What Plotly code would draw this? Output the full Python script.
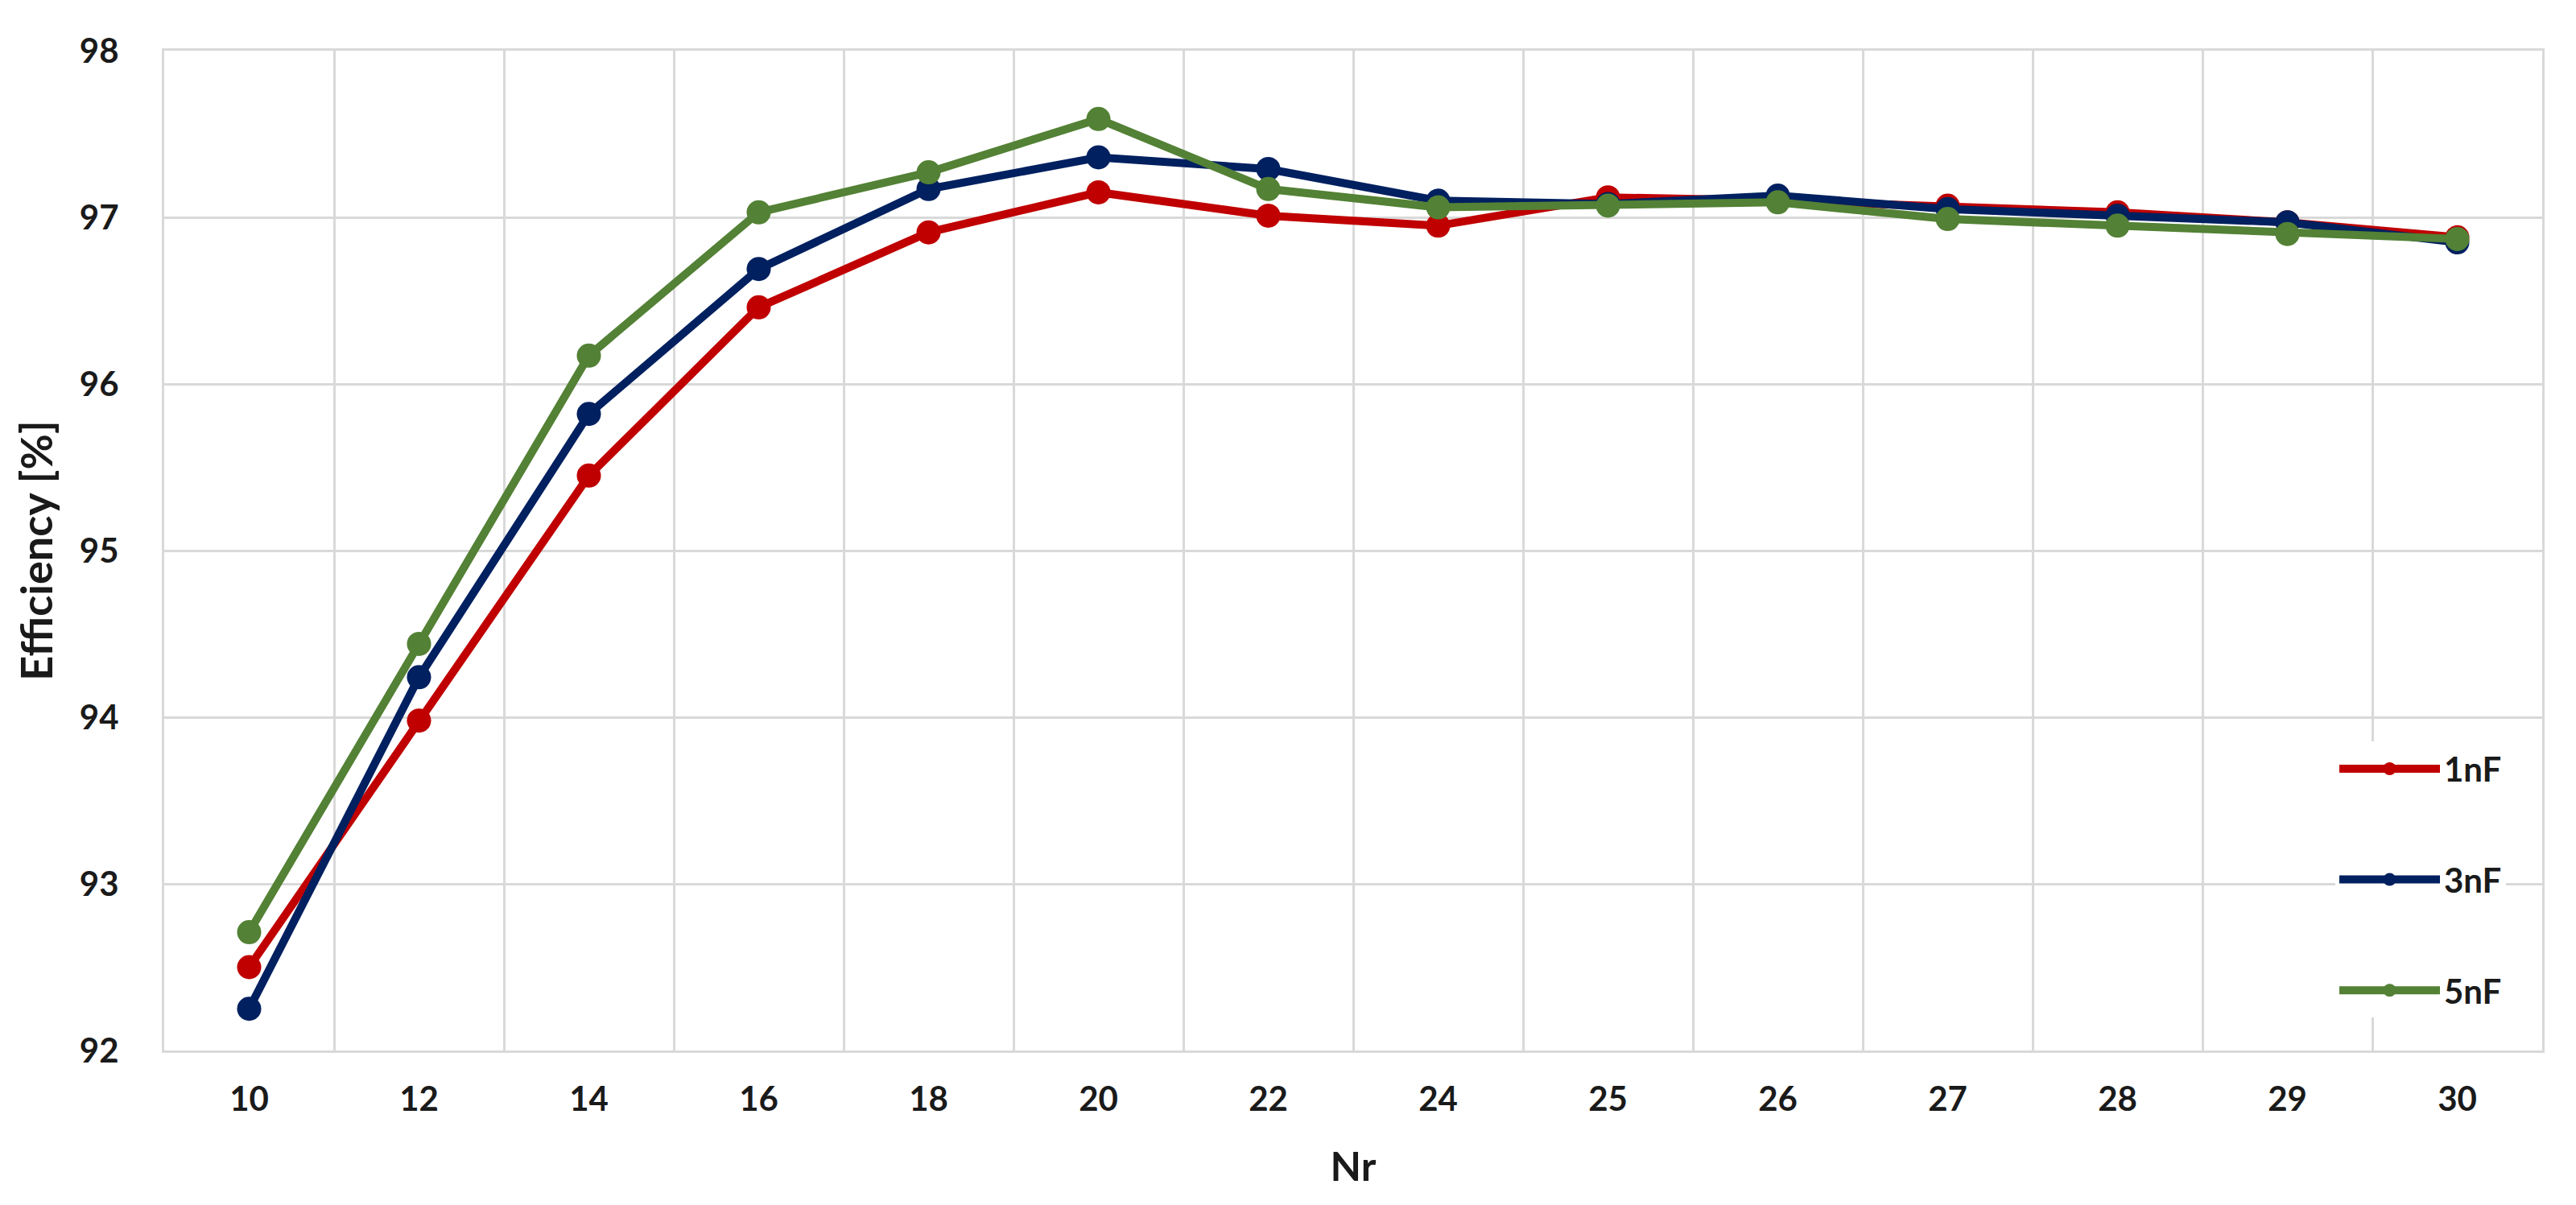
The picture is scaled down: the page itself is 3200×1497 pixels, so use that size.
import plotly.graph_objects as go

nr = ["10", "12", "14", "16", "18", "20", "22", "24", "25", "26", "27", "28", "29", "30"]
eff_1nF = [92.50, 93.98, 95.45, 96.46, 96.91, 97.15, 97.01, 96.95, 97.12, 97.10, 97.07, 97.03, 96.97, 96.88]
eff_3nF = [92.25, 94.24, 95.82, 96.69, 97.17, 97.36, 97.29, 97.10, 97.08, 97.13, 97.05, 97.01, 96.97, 96.85]
eff_5nF = [92.71, 94.44, 96.17, 97.03, 97.27, 97.59, 97.17, 97.06, 97.07, 97.09, 96.99, 96.95, 96.90, 96.87]

series = [
    ("1nF", eff_1nF, "#C00000"),
    ("3nF", eff_3nF, "#002060"),
    ("5nF", eff_5nF, "#538135"),
]

FONT = "Lato, Carlito, 'Open Sans', sans-serif"

fig = go.Figure()
for i, (name, vals, color) in enumerate(series):
    fig.add_trace(go.Scatter(
        x=nr, y=vals, name=name, mode="lines+markers",
        line=dict(color=color, width=10),
        marker=dict(color=color, size=30),
        legendgroup=f"g{i}",
    ))

fig.update_layout(
    width=3200, height=1497,
    margin=dict(l=196, r=50, t=55, b=200),
    paper_bgcolor="white", plot_bgcolor="white",
    font=dict(family=FONT, size=42, color="#1a1a1a"),
    showlegend=True,
    legend=dict(
        x=0.913, xanchor="left", y=0.309, yanchor="top",
        bgcolor="white", borderwidth=0,
        font=dict(family=FONT, size=42, color="#1a1a1a", weight="bold"),
        tracegroupgap=80, itemwidth=125,
    ),
    xaxis=dict(
        type="category", tickson="boundaries", ticks="",
        range=[-0.5, len(nr) - 0.5],
        showgrid=True, gridcolor="#D9D9D9", gridwidth=3,
        showline=True, linecolor="#D9D9D9", linewidth=3, mirror=True,
        automargin=False,
        tickfont=dict(family=FONT, size=42, weight="bold"),
        ticklabelstandoff=22,
        title=dict(text="Nr", font=dict(family=FONT, size=50, weight="bold"), standoff=44),
    ),
    yaxis=dict(
        range=[92, 98], dtick=1, ticks="",
        showgrid=True, gridcolor="#D9D9D9", gridwidth=3,
        showline=True, linecolor="#D9D9D9", linewidth=3, mirror=True,
        zeroline=False, automargin=False,
        tickfont=dict(family=FONT, size=42, weight="bold"),
        ticklabelstandoff=45,
        title=dict(text="Efficiency [%]", font=dict(family=FONT, size=54, weight="bold"), standoff=16),
    ),
)

fig.write_html("out.html")
